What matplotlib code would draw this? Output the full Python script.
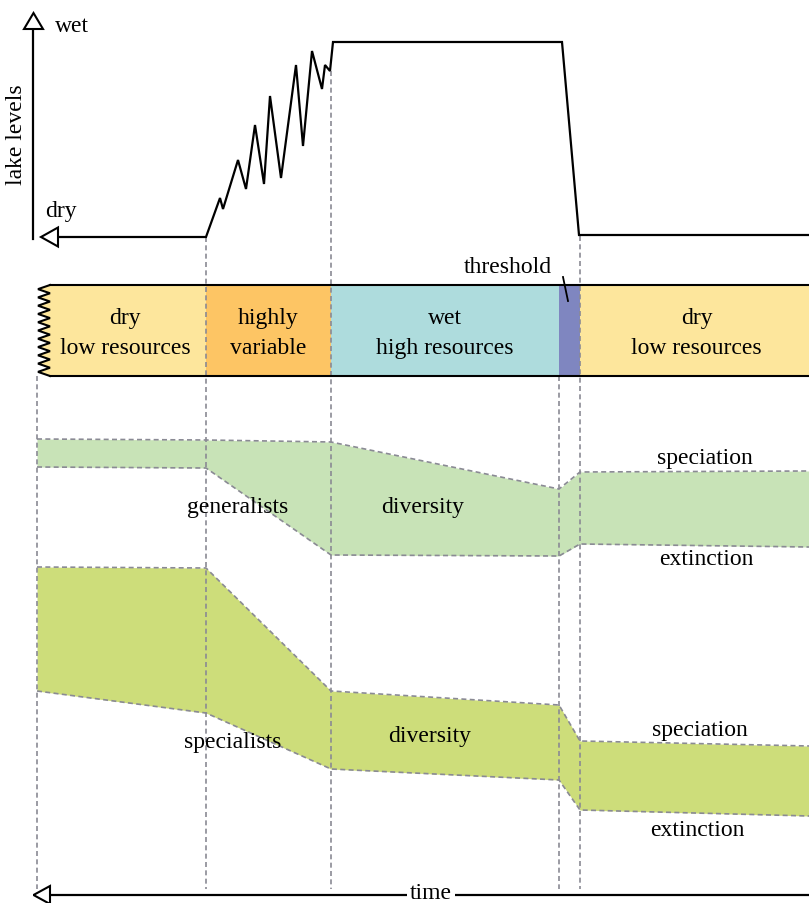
import matplotlib.pyplot as plt
from matplotlib.patches import Polygon
import numpy as np

plt.rcParams['font.family'] = ['Liberation Serif', 'DejaVu Serif']

# regime boundaries along the time axis (diagram units = pixels)
t_edges = [37, 206, 331, 559, 580, 809]
regime_labels = ['dry\nlow resources', 'highly\nvariable', 'wet\nhigh resources', '', 'dry\nlow resources']
regime_colors = ['#fde69c', '#fdc564', '#aedcdd', '#7f86c0', '#fde69c']

# lake level trace (screen y grows downward)
lake_x = [58, 206, 220, 223, 238, 246, 255, 264, 270, 281, 296, 303, 312, 322, 325, 330, 333, 562, 579, 809]
lake_y = [238, 238, 199, 210, 161, 190, 126, 185, 97, 179, 66, 147, 52, 90, 66, 72, 43, 43, 236, 236]

# diversity bands (upper edge = speciation, lower edge = extinction)
band_x = [37, 206, 331, 559, 580, 809]
gen_top = [440, 441, 443, 490, 473, 472]
gen_bot = [468, 469, 556, 557, 545, 548]
spec_top = [568, 569, 692, 706, 742, 747]
spec_bot = [692, 714, 770, 781, 811, 817]

# where each dashed guide starts
guide_x = [37, 206, 331, 559, 580]
guide_y0 = [377, 238, 72, 377, 237]

BAR_TOP, BAR_BOT = 286, 377
FS = 17
GREY = '#8a8a94'
DY = 3  # text centre offset (va='center' sits a bit high for serif glyphs)

fig = plt.figure(figsize=(8.09, 9.04), dpi=100)
ax = fig.add_axes([0, 0, 1, 1])
ax.set_xlim(0, 809)
ax.set_ylim(904, 0)
ax.set_axis_off()


def label(x, y, s, **kw):
    kw.setdefault('ha', 'center')
    ax.text(x, y + DY, s, va='center', fontsize=FS, zorder=6, **kw)


# regime bar
zz_y = np.linspace(BAR_TOP, BAR_BOT, 23)
zz_x = np.where(np.arange(23) % 2 == 0, 50, 38)
ax.add_patch(Polygon(list(zip(zz_x, zz_y)) + [(t_edges[1], BAR_BOT), (t_edges[1], BAR_TOP)],
                     closed=True, facecolor=regime_colors[0], edgecolor='none', zorder=1))
for i in range(1, len(regime_colors)):
    ax.fill_between([t_edges[i], t_edges[i + 1]], BAR_TOP, BAR_BOT,
                    color=regime_colors[i], lw=0, zorder=1)
for i, lab in enumerate(regime_labels):
    if lab:
        x0 = t_edges[i] if i > 0 else 44
        label((x0 + t_edges[i + 1]) / 2 + (2 if i == 4 else 0), (BAR_TOP + BAR_BOT) / 2 - 1, lab,
              linespacing=1.55)
ax.plot([50, 809], [BAR_TOP, BAR_TOP], color='black', lw=1.5, zorder=4)
ax.plot([50, 809], [BAR_BOT, BAR_BOT], color='black', lw=1.5, zorder=4)
ax.plot(zz_x, zz_y, color='black', lw=1.5, zorder=4, solid_joinstyle='miter')

label(508, 265, 'threshold')
ax.plot([563, 568], [278, 302], color='black', lw=1.3, zorder=5)

# dashed guides
for gx, gy in zip(guide_x, guide_y0):
    ax.plot([gx, gx], [gy, 890], color=GREY, lw=1.2, ls=(0, (3, 2)), zorder=3)

# diversity bands
for top, bot, col in [(gen_top, gen_bot, '#c8e3b7'), (spec_top, spec_bot, '#cddd7a')]:
    ax.fill_between(band_x, top, bot, color=col, lw=0, zorder=0)
    ax.plot(band_x, top, color=GREY, lw=1.2, ls=(0, (3, 2)), zorder=2)
    ax.plot(band_x, bot, color=GREY, lw=1.2, ls=(0, (3, 2)), zorder=2)

label(238, 505, 'generalists')
label(423, 504, 'diversity')
label(705, 456, 'speciation')
label(706, 557, 'extinction')
label(233, 740, 'specialists')
label(430, 734, 'diversity')
label(700, 728, 'speciation')
label(697, 828, 'extinction')

# lake level panel
ax.plot(lake_x, lake_y, color='black', lw=1.6, zorder=4, solid_joinstyle='miter')
ax.plot([33.5, 33.5], [240, 30], color='black', lw=1.6, zorder=4)
ax.add_patch(Polygon([(33.5, 14), (24, 30), (43, 30)], closed=True,
                     facecolor='white', edgecolor='black', lw=1.5, zorder=5))
ax.add_patch(Polygon([(41, 238), (58, 228.5), (58, 247.5)], closed=True,
                     facecolor='white', edgecolor='black', lw=1.5, zorder=5))
label(55, 23, 'wet', ha='left')
label(45, 208, 'dry', ha='left')
ax.text(17, 135, 'lake levels', ha='center', va='center', rotation=90, fontsize=FS)

# time axis
ax.plot([50, 809], [896, 896], color='black', lw=1.6, zorder=4)
ax.add_patch(Polygon([(33.5, 896), (50, 887), (50, 905)], closed=True,
                     facecolor='white', edgecolor='black', lw=1.5, zorder=5))
label(431, 891, 'time', bbox=dict(facecolor='white', edgecolor='none', pad=2))

fig.savefig('out.png', dpi=100)
